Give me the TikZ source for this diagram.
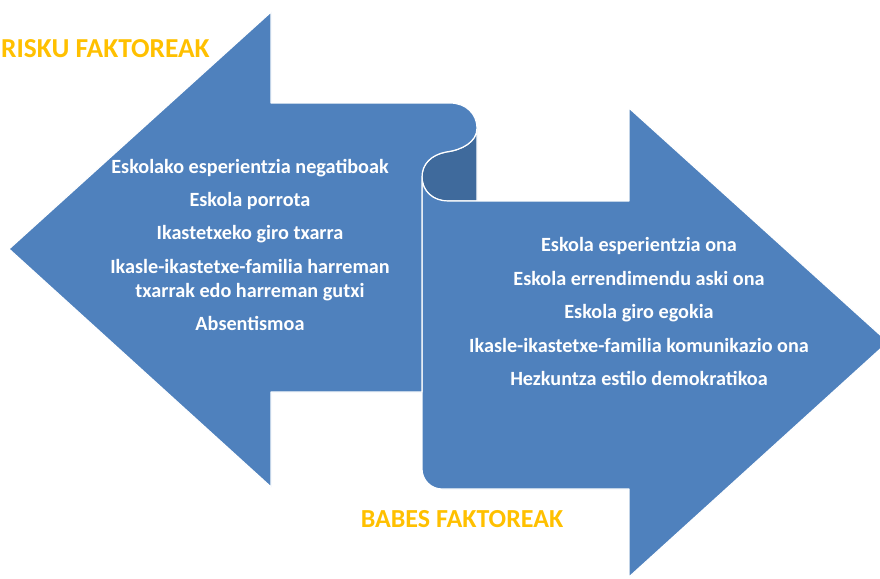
\documentclass[tikz,border=0pt]{standalone}
\usepackage{fontspec}
\setmainfont{Carlito}
\definecolor{arrowblue}{HTML}{4F81BD}
\definecolor{curldark}{HTML}{3F6A9C}
\definecolor{titleorange}{HTML}{FFC000}
\tikzset{
  arrowshape/.style={fill=arrowblue, draw=white, line width=1.2pt, line join=round},
  backshape/.style={fill=curldark, draw=white, line width=1.2pt, line join=round},
  item/.style={anchor=base, text=white, font=\fontsize{20.2}{24}\selectfont\bfseries, inner sep=0pt, align=center},
  heading/.style={text=titleorange, font=\fontsize{26}{30}\selectfont\bfseries, inner sep=0pt}
}
\begin{document}
\begin{tikzpicture}[x=1pt,y=-1pt]
\useasboundingbox (0,0) rectangle (880,578);
\clip (0,0) rectangle (880,578);
% back side of the scroll
\path[backshape] (477,128) .. controls (477,142) and (462,150) .. (446,152)
  .. controls (431,155) and (422,164) .. (422,177)
  .. controls (422,191) and (433,201) .. (448,201) -- (477,201) -- cycle;
% right arrow (protective factors)
\path[arrowshape] (422,177) .. controls (422,191) and (433,201) .. (448,201)
  -- (629,201) -- (629,108) -- (888,342) -- (629,577) -- (629,489) -- (442,489)
  .. controls (431,489) and (422,480) .. (422,469) -- cycle;
% left arrow (risk factors)
\path[arrowshape] (9,249) -- (271,12) -- (271,103) -- (450,103)
  .. controls (466,103) and (477,114) .. (477,128)
  .. controls (477,142) and (462,150) .. (446,152)
  .. controls (431,155) and (422,164) .. (422,177)
  -- (422,392) -- (271,392) -- (271,487) -- cycle;
% headings
\node[heading, anchor=base west, font=\fontsize{27.4}{32}\selectfont\bfseries] (risk) at (1,57) {RISKU FAKTOREAK};
\node[heading, anchor=base] (babes) at (462,527) {BABES FAKTOREAK};
% left items
\node[item] (l1) at (250,173) {Eskolako esperientzia negatiboak};
\node[item] (l2) at (250,206) {Eskola porrota};
\node[item] (l3) at (250,239) {Ikastetxeko giro txarra};
\node[item] (l4) at (250,273) {Ikasle-ikastetxe-familia harreman};
\node[item] (l4b) at (250,297) {txarrak edo harreman gutxi};
\node[item] (l5) at (250,330) {Absentismoa};
% right items
\node[item] (r1) at (639,251) {Eskola esperientzia ona};
\node[item] (r2) at (639,285) {Eskola errendimendu aski ona};
\node[item] (r3) at (639,318) {Eskola giro egokia};
\node[item] (r4) at (639,352) {Ikasle-ikastetxe-familia komunikazio ona};
\node[item] (r5) at (639,385) {Hezkuntza estilo demokratikoa};
\end{tikzpicture}
\end{document}
